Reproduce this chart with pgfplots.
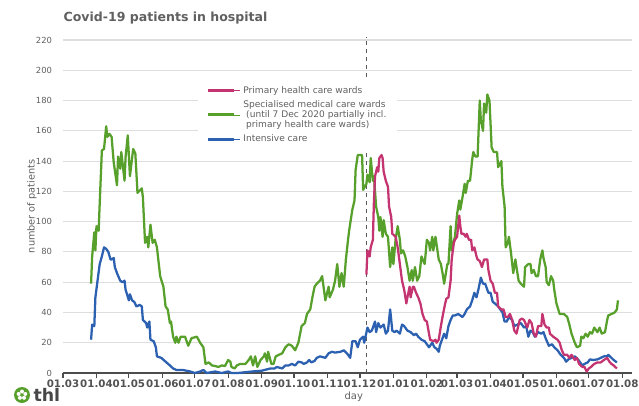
\documentclass[border=0pt]{standalone}
\usepackage{fontspec}
\setmainfont{DejaVu Sans}
\usepackage{pgfplots}
\pgfplotsset{compat=1.18}
\definecolor{cpink}{RGB}{196,52,112}
\definecolor{cgreen}{RGB}{88,160,44}
\definecolor{cblue}{RGB}{44,96,176}
\definecolor{txtgray}{RGB}{96,96,96}
\begin{document}
\begin{tikzpicture}
\useasboundingbox (0,0) rectangle (479.25pt,303.75pt);
\begin{axis}[
  scale only axis, width=426.75pt, height=249.75pt,
  at={(47.25pt,24pt)}, anchor=south west,
  xmin=0, xmax=527, ymin=0, ymax=220,
  clip=false,
  ytick={0,20,...,220},
  ymajorgrids, grid style={black!13, line width=0.8pt},
  axis lines*=left,
  y axis line style={draw=none},
  ytick style={draw=none},
  x axis line style={black!70, line width=1.1pt},
  xtick style={black!70, line width=0.9pt},
  tick align=outside, major tick length=3.75pt,
  /pgf/number format/assume math mode=true,
  yticklabel style={font=\fontsize{6.3pt}{7pt}\selectfont, text=txtgray, xshift=-1pt},
  xtick={0,31,61,92,122,153,184,214,245,275,306,337,365,396,426,457,487,518},
  xticklabels={01.03,01.04,01.05,01.06,01.07,01.08,01.09,01.10,01.11,01.12,01.01,01.02,01.03,01.04,01.05,01.06,01.07,01.08},
  xticklabel style={font=\bfseries\fontsize{7.7pt}{9pt}\selectfont, text=black!68, inner sep=1pt},
  xlabel={day}, xlabel style={font=\fontsize{7.5pt}{9pt}\selectfont, text=txtgray, at={(axis description cs:0.511,-0.072)}, anchor=center},
  ylabel={number of patients}, ylabel style={font=\fontsize{7.3pt}{9pt}\selectfont, text=txtgray, at={(axis description cs:-0.0545,0.5)}, anchor=center, rotate=0},
  legend cell align=left,
  legend style={at={(0.2373,0.8859)}, anchor=north west, draw=none, fill=white,
    font=\fontsize{6.8pt}{7.5pt}\selectfont, text=txtgray, cells={align=left},
    inner xsep=6pt, inner ysep=4pt, row sep=0pt},
  legend image code/.code={\path (0pt,0pt) -- (24.5pt,0pt); \draw[#1, line width=2.2pt] (0pt,0pt) -- (20pt,0pt);},
]
\addlegendimage{cpink}
\addlegendentry{Primary health care wards}
\addlegendimage{cgreen}
\addlegendentry{Specialised medical care wards\\\ (until 7 Dec 2020 partially incl.\\\ primary health care wards)}
\addlegendimage{cblue}
\addlegendentry{Intensive care}

\addplot[forget plot, black!65, dashed, line width=0.9pt] coordinates {(281,0) (281,222)};

\addplot[forget plot, cgreen, line width=1.7pt, line join=round] coordinates {
(26,59)(27,77)(29,93)(30,81)(31,97)(33,94)(34,112)(36,147)(38,148)(40,163)(41,156)(43,158)(45,156)(47,139)(50,124)(51,143)(53,135)(54,146)(57,127)(58,143)(60,157)(62,130)(65,148)(67,145)(69,119)(73,122)(74,116)(76,86)(78,90)(79,83)(81,98)(83,86)(85,88)(87,83)(90,64)(93,57)(95,44)(97,42)(99,33)(100,34)(102,24)(104,20)(105,24)(107,20)(109,24)(113,24)(116,18)(119,23)(124,24)(127,20)(130,17)(132,6)(135,7)(138,5)(141,4.6)(144,4)(147,5)(150,4.6)(153,8.6)(155,7.5)(156,4)(159,3)(161,5)(164,6)(169,6)(172,8.6)(174,11)(176,5)(178,11)(180,4)(183,8.6)(186,11)(187,13)(189,7.5)(190,14)(193,6)(195,6)(197,11)(200,12)(203,13)(206,17)(209,19)(212,18)(215,15)(218,20)(221,31)(224,33)(226,39)(229,42)(231,50)(233,57)(235,59)(238,61)(240,64)(243,48)(246,57)(247,50)(250,55)(252,61)(254,72)(256,57)(258,66)(260,57)(262,75)(264,88)(265,94)(268,108)(270,114)(271,134)(273,144)(275,144)(277,144)(278,121)(281,125)(282,131)(284,126)(285,142)(287,127)(288,130)(290,110)(292,103)(293,94)(294,103)(296,90)(297,101)(299,92)(301,90)(303,70)(305,83)(306,72)(308,88)(310,97)(312,88)(313,79)(315,81)(317,77)(319,70)(321,61)(323,68)(324,61)(326,70)(328,61)(330,64)(332,77)(335,72)(337,88)(339,86)(340,81)(342,90)(343,81)(345,90)(348,75)(350,72)(352,64)(353,59)(356,72)(357,72)(359,97)(360,81)(363,90)(365,105)(367,114)(368,108)(370,116)(372,125)(373,119)(375,127)(377,127)(379,141)(380,146)(382,143)(384,143)(386,180)(387,167)(389,160)(390,178)(392,172)(393,184)(395,180)(397,149)(399,146)(402,146)(403,136)(406,140)(407,123)(409,110)(410,83)(412,86)(413,90)(415,79)(417,66)(419,75)(420,70)(422,61)(424,59)(427,57)(428,70)(431,72)(433,72)(434,66)(436,68)(438,64)(440,64)(442,75)(444,81)(445,76)(447,70)(448,60)(450,58)(452,64)(454,61)(455,55)(457,46)(460,39)(464,39)(467,37)(469,32)(471,26)(474,20)(476,17)(479,18)(480,24)(482,23)(484,26)(486,24)(488,27)(490,26)(492,30)(495,27)(497,30)(499,26)(502,27)(504,35)(505,38)(508,39)(511,40)(513,42)(514,48)
};

\addplot[forget plot, cblue, line width=1.7pt, line join=round] coordinates {
(26,22)(27,32)(29,31)(30,50)(32,61)(34,72)(36,77)(38,83)(40,82)(42,80)(44,75)(45,75)(47,76)(48,70)(50,66)(53,61)(55,60)(57,61)(58,55)(61,48)(62,52)(64,48)(66,47)(68,44)(71,45)(73,44)(74,35)(77,33)(78,30)(80,34)(81,22)(84,21)(86,17)(87,11)(91,10)(95,7.5)(99,5)(102,3)(105,2)(111,2)(118,1)(122,0)(127,1)(130,2)(133,0)(141,1)(147,0)(153,1)(156,0)(162,0)(175,1)(184,1.5)(192,3)(196,3)(198,4)(203,3)(206,5)(209,5)(212,6)(215,5)(218,7.5)(221,7)(223,6)(226,7)(228,8.6)(230,7)(233,8)(235,10)(238,11)(243,10)(246,13)(249,14)(252,13.5)(257,14)(260,15)(263,13)(266,10)(268,21)(271,21)(273,17)(275,22)(278,24)(279,20)(282,30)(284,27)(286,28)(289,34)(290,27)(292,33)(294,30)(297,32)(299,26)(301,28)(303,42)(305,28)(307,27)(309,28)(312,26)(314,32)(316,31)(319,28)(322,27)(325,25)(327,26)(329,24)(332,22)(335,21)(339,17)(342,20)(344,17)(346,16)(348,14)(349,18)(352,24)(353,26)(355,23)(357,31)(359,35)(361,38)(363,38)(366,39)(370,37)(372,39)(374,42)(377,44)(379,48)(381,53)(383,50)(385,56)(387,63)(389,59)(391,59)(394,53)(396,53)(398,47)(400,46)(403,44)(405,42)(407,40)(409,34)(411,34)(413,37)(416,35)(418,31)(421,32)(424,33)(427,30)(429,31)(431,24)(433,28)(435,27)(437,24)(440,27)(443,26)(445,27)(447,23)(450,18)(453,19)(455,17)(458,15)(461,12)(464,10)(466,7.5)(468,9)(471,10)(474,11)(477,9)(481,5)(483,6)(486,7)(488,9)(491,8.6)(495,9)(498,10)(501,11)(504,11)(505,12)(508,10)(510,8.6)(513,7)
};

\addplot[forget plot, cpink, line width=1.7pt, line join=round] coordinates {
(281,65)(282,81)(284,77)(285,83)(287,88)(288,114)(289,130)(291,136)(292,133)(293,142)(295,144)(296,142)(297,133)(299,127)(301,123)(302,110)(304,103)(305,92)(308,90)(310,83)(312,72)(314,61)(316,55)(318,46)(319,50)(321,57)(322,50)(324,57)(325,57)(327,53)(329,50)(331,46)(333,39)(335,35)(337,34)(339,26)(340,22)(343,21)(345,22)(346,20)(348,22)(350,31)(352,39)(354,46)(355,49)(357,50)(359,61)(360,75)(362,86)(363,88)(365,90)(367,104)(368,97)(369,92)(371,92)(373,90)(374,92)(376,88)(378,88)(379,81)(381,83)(383,77)(384,75)(386,74)(388,70)(390,75)(393,75)(394,68)(396,61)(398,59)(400,53)(402,53)(403,44)(406,42)(408,42)(410,37)(412,37)(414,39)(416,35)(418,28)(420,26)(423,35)(425,36)(427,35)(430,30)(432,35)(434,33)(436,26)(438,24)(440,31)(443,31)(444,39)(446,32)(448,30)(450,30)(451,26)(454,24)(458,22)(460,20)(462,15)(464,12)(467,12)(469,10)(471,12)(474,8.6)(476,10)(478,6)(481,4)(483,4)(485,1)(487,3)(489,4)(492,6)(495,7)(498,7)(501,8.6)(504,10)(506,7.5)(508,6)(510,5)(513,3)
};
\end{axis}
\node[anchor=west, font=\bfseries\fontsize{9.4pt}{11pt}\selectfont, text=txtgray, inner sep=0pt] at (47.5pt,290.25pt) {Covid-19 patients in hospital};
% logo
\fill[cgreen] (16.5pt,7.5pt) circle (6pt);
\foreach \a in {90,162,234,306,18} {\fill[white] (16.5pt,7.5pt) ++(\a:2.6pt) circle (1.5pt);}
\node[anchor=base west, font=\bfseries\fontsize{13pt}{14pt}\selectfont, text=black!72, inner sep=0pt] at (25pt,3pt) {thl};
\end{tikzpicture}
\end{document}
